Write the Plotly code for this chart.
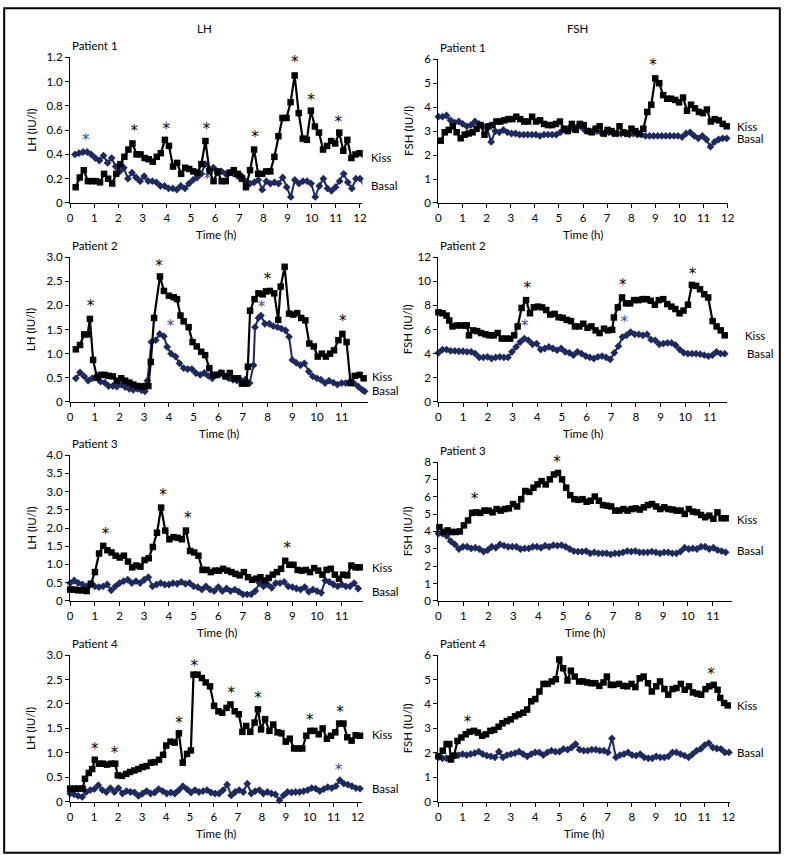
import numpy as np
import plotly.graph_objects as go

# ---------------- data ----------------
# Patient 1 LH
p1_lh_kiss = [0.13,0.21,0.27,0.18,0.18,0.18,0.17,0.24,0.20,0.16,0.24,0.32,0.38,0.44,0.49,0.40,0.40,0.37,0.36,0.34,
              0.38,0.41,0.52,0.47,0.30,0.33,0.24,0.29,0.28,0.26,0.25,0.32,0.51,0.26,0.18,0.26,0.18,0.18,0.25,0.27,
              0.24,0.20,0.13,0.27,0.44,0.24,0.24,0.26,0.26,0.38,0.55,0.70,0.70,0.83,1.05,0.74,0.53,0.52,0.76,0.63,
              0.58,0.44,0.47,0.51,0.49,0.58,0.43,0.52,0.37,0.40,0.41,0.37]
p1_lh_basal = [0.40,0.41,0.42,0.42,0.40,0.37,0.35,0.39,0.33,0.37,0.30,0.26,0.29,0.20,0.25,0.21,0.18,0.22,0.18,0.18,
               0.17,0.14,0.14,0.12,0.12,0.11,0.14,0.12,0.16,0.19,0.21,0.24,0.32,0.28,0.29,0.25,0.26,0.24,0.25,0.24,
               0.22,0.22,0.18,0.16,0.17,0.19,0.11,0.18,0.16,0.17,0.16,0.21,0.13,0.05,0.19,0.16,0.18,0.18,0.16,0.05,
               0.14,0.20,0.12,0.10,0.13,0.18,0.24,0.17,0.12,0.20,0.20,0.14]
# Patient 1 FSH
p1_fsh_kiss = [2.6,2.95,3.05,3.2,2.95,2.7,2.85,2.9,2.95,3.1,3.25,2.85,3.2,3.25,3.4,3.4,3.45,3.5,3.5,3.6,
               3.5,3.4,3.4,3.6,3.4,3.45,3.3,3.25,3.25,3.3,3.4,3.1,3.0,3.3,3.05,3.3,3.25,3.0,2.95,3.1,
               3.2,2.9,3.05,3.0,2.9,3.2,2.95,2.9,3.1,3.0,2.9,3.1,3.8,4.1,5.2,5.0,4.5,4.35,4.35,4.3,
               4.2,4.4,3.85,4.1,3.95,3.8,3.75,3.9,3.4,3.5,3.45,3.3,3.2]
p1_fsh_basal = [3.6,3.6,3.65,3.45,3.35,3.4,3.3,3.2,3.25,3.4,3.3,3.2,3.1,2.55,3.0,2.95,3.05,2.95,2.9,2.9,
                2.85,2.85,2.85,2.85,2.85,2.8,2.85,2.85,2.85,2.85,2.95,3.05,3.1,3.1,3.15,3.2,3.05,3.0,3.0,3.0,
                2.95,2.9,2.95,2.9,2.9,2.9,2.9,2.85,2.9,2.85,2.85,2.8,2.8,2.8,2.8,2.8,2.8,2.8,2.8,2.8,
                2.75,2.9,2.95,2.8,2.7,2.8,2.65,2.35,2.55,2.65,2.7,2.7]
# Patient 2 LH
p2_lh_kiss_t = [0.23,0.40,0.57,0.71,0.80,0.93,1.09,1.24,1.40,1.56,1.73,1.89,2.07,2.23,2.40,2.56,2.73,2.89,3.04,3.17,
                3.27,3.40,3.64,3.80,4.00,4.20,4.33,4.47,4.60,4.80,4.96,5.13,5.31,5.47,5.64,5.80,5.96,6.13,6.29,6.47,
                6.63,6.80,6.96,7.13,7.20,7.29,7.47,7.63,7.80,7.93,8.09,8.27,8.43,8.53,8.69,8.87,9.04,9.20,9.36,9.53,
                9.69,9.87,10.03,10.20,10.36,10.53,10.69,10.87,11.03,11.20,11.36,11.53,11.73,11.89]
p2_lh_kiss = [1.09,1.18,1.4,1.4,1.72,0.87,0.5,0.56,0.56,0.54,0.53,0.44,0.49,0.44,0.4,0.36,0.33,0.32,0.33,0.33,
              0.83,1.74,2.6,2.3,2.2,2.17,2.13,1.79,1.67,1.55,1.24,1.15,1.04,0.97,0.7,0.56,0.56,0.6,0.53,0.6,
              0.49,0.49,0.38,0.38,0.73,1.89,2.13,2.25,2.23,2.29,2.3,2.25,1.7,2.39,2.8,1.83,1.81,1.84,1.74,1.69,
              1.21,1.15,0.94,1.0,0.94,1.0,1.07,1.28,1.41,1.24,0.39,0.54,0.56,0.49]
p2_lh_basal_t = [0.23,0.40,0.57,0.73,0.89,1.07,1.23,1.40,1.56,1.73,1.89,2.07,2.23,2.40,2.56,2.73,2.89,3.03,3.13,3.29,
                 3.47,3.63,3.80,3.93,4.09,4.27,4.43,4.60,4.76,4.93,5.09,5.27,5.43,5.60,5.76,5.93,6.09,6.27,6.43,6.60,
                 6.76,6.93,7.09,7.27,7.43,7.49,7.63,7.73,7.89,8.07,8.23,8.40,8.56,8.73,8.87,9.00,9.16,9.33,9.49,9.67,
                 9.83,10.00,10.16,10.33,10.49,10.67,10.83,11.00,11.16,11.33,11.49,11.67,11.83,11.93]
p2_lh_basal = [0.49,0.61,0.53,0.44,0.49,0.53,0.42,0.4,0.33,0.33,0.32,0.36,0.31,0.27,0.25,0.27,0.24,0.22,0.44,1.24,
               1.28,1.41,1.36,1.14,1.0,0.94,0.8,0.7,0.68,0.68,0.6,0.56,0.6,0.54,0.49,0.56,0.6,0.54,0.49,0.46,
               0.44,0.44,0.46,0.39,0.76,1.55,1.74,1.79,1.62,1.62,1.57,1.55,1.52,1.48,1.35,0.87,0.81,0.76,0.8,0.63,
               0.53,0.49,0.46,0.39,0.44,0.4,0.36,0.39,0.39,0.42,0.39,0.32,0.25,0.22]
# Patient 2 FSH
p2_fsh_kiss_t = [0.00,0.17,0.33,0.44,0.57,0.75,0.91,1.08,1.15,1.24,1.41,1.57,1.73,1.91,2.07,2.24,2.40,2.57,2.73,2.91,
                 3.07,3.21,3.37,3.55,3.71,3.87,4.04,4.20,4.37,4.53,4.71,4.87,5.04,5.20,5.37,5.53,5.71,5.87,6.04,6.20,
                 6.37,6.53,6.71,6.87,7.04,7.11,7.27,7.44,7.60,7.77,7.93,8.11,8.27,8.44,8.60,8.77,8.93,9.11,9.27,9.44,
                 9.60,9.77,9.93,10.11,10.27,10.44,10.60,10.77,10.93,11.11,11.27,11.44,11.60]
p2_fsh_kiss = [7.43,7.35,7.16,6.75,6.26,6.34,6.34,6.34,6.34,5.52,5.93,5.87,5.71,5.6,5.52,5.52,5.71,5.25,5.25,5.25,
               5.52,6.26,7.79,8.44,7.35,7.84,7.9,7.84,7.62,7.24,7.3,7.02,6.97,6.8,6.7,6.26,6.26,6.48,6.15,6.26,
               5.93,5.71,6.07,5.93,5.98,7.0,7.84,8.66,8.17,8.17,8.44,8.44,8.52,8.52,8.39,8.06,8.44,8.52,8.11,7.9,
               7.7,7.35,7.57,8.06,9.7,9.62,9.34,8.93,8.66,6.7,6.26,5.93,5.52]
p2_fsh_basal = [4.07,4.34,4.34,4.23,4.23,4.2,4.2,4.15,4.15,4.0,3.69,3.69,3.74,3.6,3.69,3.74,3.69,3.69,4.15,4.56,
                4.97,5.25,5.11,4.78,4.84,4.34,4.43,4.56,4.43,4.29,4.43,4.15,4.07,3.88,4.15,4.0,3.8,3.69,3.6,3.74,
                3.8,3.69,3.52,4.07,4.62,5.38,5.52,5.79,5.6,5.6,5.52,5.6,5.16,5.11,4.78,4.84,4.89,4.89,4.7,4.34,
                4.07,4.0,4.0,4.0,3.96,3.88,3.8,3.88,4.15,4.0,4.0]
# Patient 3 LH
p3_lh_kiss = [0.31,0.31,0.29,0.29,0.27,0.47,0.79,1.3,1.51,1.39,1.33,1.24,1.19,1.24,1.08,0.92,0.97,0.94,1.12,1.17,
              1.48,1.87,2.56,1.93,1.69,1.75,1.73,1.69,1.93,1.37,1.33,1.24,0.85,0.85,0.79,0.83,0.83,0.88,0.83,0.79,
              0.74,0.7,0.79,0.65,0.58,0.61,0.65,0.56,0.63,0.72,0.79,0.88,1.1,0.99,0.99,0.85,0.83,0.85,0.79,0.9,
              0.83,0.72,0.85,0.88,0.72,0.61,0.72,0.7,0.97,0.92,0.92]
p3_lh_basal = [0.49,0.56,0.49,0.45,0.4,0.45,0.4,0.38,0.4,0.45,0.29,0.4,0.49,0.54,0.58,0.49,0.54,0.49,0.58,0.65,
               0.4,0.45,0.49,0.45,0.45,0.49,0.47,0.52,0.47,0.49,0.4,0.38,0.31,0.4,0.31,0.27,0.38,0.27,0.34,0.27,
               0.31,0.25,0.18,0.18,0.18,0.27,0.49,0.4,0.45,0.36,0.49,0.49,0.52,0.4,0.38,0.34,0.31,0.38,0.25,0.31,
               0.27,0.22,0.56,0.52,0.45,0.4,0.45,0.4,0.4,0.49,0.34]
# Patient 3 FSH
p3_fsh_kiss = [4.25,3.97,4.06,3.97,3.97,4.0,4.35,4.63,5.07,5.1,5.07,5.2,5.2,5.1,5.29,5.2,5.29,5.33,5.58,5.44,
               5.86,6.33,6.28,6.52,6.71,6.9,6.71,7.0,7.28,7.37,7.0,6.52,6.09,5.86,5.82,5.86,5.71,5.77,6.01,5.77,
               5.52,5.48,5.44,5.2,5.2,5.29,5.2,5.29,5.33,5.26,5.39,5.52,5.58,5.44,5.29,5.39,5.29,5.26,5.2,5.2,
               5.01,5.29,5.14,5.1,4.95,4.82,4.91,4.73,5.1,4.76,4.76]
p3_fsh_basal = [3.88,3.88,3.74,3.44,3.25,2.99,3.12,3.12,3.02,3.06,2.99,2.84,2.93,3.12,3.06,3.25,3.18,3.12,3.12,3.12,
                2.99,3.02,3.02,3.12,3.12,3.06,3.18,3.12,3.21,3.18,3.21,3.12,2.99,2.87,2.84,2.84,2.87,2.74,2.8,2.74,
                2.74,2.74,2.68,2.74,2.74,2.8,2.87,2.84,2.87,2.8,2.8,2.8,2.84,2.8,2.74,2.8,2.8,2.74,2.74,2.84,
                3.06,2.99,3.02,2.99,3.12,3.12,2.99,3.06,2.93,2.87,2.8]
# Patient 4 LH
p4_lh_kiss_t = [0.00,0.18,0.34,0.52,0.62,0.78,0.92,1.03,1.20,1.37,1.54,1.72,1.88,1.99,2.16,2.34,2.50,2.68,2.85,3.02,
                3.19,3.37,3.53,3.71,3.88,4.01,4.19,4.36,4.54,4.70,4.88,5.04,5.15,5.32,5.50,5.66,5.84,6.01,6.19,6.35,
                6.53,6.69,6.87,7.04,7.19,7.35,7.52,7.70,7.84,7.97,8.14,8.32,8.48,8.66,8.82,9.00,9.17,9.35,9.51,9.69,
                9.86,10.03,10.20,10.38,10.54,10.72,10.89,11.07,11.23,11.41,11.57,11.75,11.92,12.10]
p4_lh_kiss = [0.27,0.27,0.27,0.27,0.47,0.59,0.67,0.86,0.78,0.78,0.76,0.78,0.78,0.54,0.53,0.57,0.61,0.64,0.67,0.71,
              0.73,0.8,0.81,0.86,0.96,1.15,1.23,1.21,1.4,0.8,0.98,1.05,2.6,2.6,2.53,2.44,2.36,1.96,1.85,1.82,
              1.92,1.99,1.85,1.79,1.43,1.55,1.43,1.62,1.89,1.48,1.69,1.45,1.58,1.42,1.4,1.23,1.29,1.09,1.09,1.09,
              1.35,1.45,1.45,1.38,1.5,1.29,1.35,1.42,1.6,1.6,1.32,1.25,1.36,1.35]
p4_lh_basal = [0.17,0.15,0.12,0.1,0.2,0.24,0.26,0.34,0.24,0.2,0.28,0.2,0.28,0.17,0.22,0.2,0.19,0.12,0.17,0.22,
               0.17,0.19,0.26,0.22,0.17,0.19,0.17,0.24,0.32,0.26,0.19,0.24,0.2,0.22,0.24,0.19,0.17,0.17,0.24,0.35,
               0.13,0.2,0.24,0.2,0.37,0.17,0.22,0.24,0.17,0.2,0.17,0.15,0.03,0.13,0.2,0.19,0.2,0.2,0.22,0.24,
               0.28,0.27,0.22,0.26,0.3,0.28,0.32,0.44,0.37,0.35,0.32,0.28,0.27]
# Patient 4 FSH
p4_fsh_kiss_t = [0.00,0.18,0.34,0.45,0.52,0.65,0.79,0.95,1.13,1.29,1.47,1.63,1.81,1.97,2.15,2.31,2.49,2.65,2.83,2.99,
                 3.17,3.33,3.51,3.67,3.84,4.01,4.18,4.35,4.52,4.69,4.86,5.00,5.16,5.34,5.48,5.64,5.82,5.98,6.15,6.32,
                 6.49,6.66,6.83,6.97,7.13,7.24,7.47,7.65,7.81,7.99,8.15,8.33,8.49,8.67,8.83,9.01,9.17,9.35,9.51,9.69,
                 9.85,10.03,10.19,10.37,10.53,10.71,10.87,11.05,11.21,11.39,11.55,11.66,11.82,11.97]
p4_fsh_kiss = [1.86,2.09,2.36,2.36,1.73,1.89,2.49,2.63,2.76,2.86,2.9,2.83,2.7,2.76,2.9,2.94,3.07,3.21,3.3,3.37,
               3.5,3.57,3.64,3.77,4.11,4.2,4.51,4.82,4.82,4.92,5.01,5.82,5.46,4.96,5.36,5.12,4.92,4.92,4.88,4.85,
               4.85,4.74,4.88,5.12,4.78,4.78,4.82,4.74,4.72,4.82,4.69,5.05,5.12,4.85,4.51,4.72,4.92,4.61,4.38,4.61,
               4.65,4.82,4.58,4.72,4.47,4.42,4.38,4.61,4.72,4.78,4.58,4.25,4.04,3.94]
p4_fsh_basal = [1.82,1.78,1.78,1.82,1.89,1.91,1.95,1.91,1.95,1.99,2.05,1.95,1.89,1.86,1.82,2.05,1.82,1.91,1.95,1.99,
                2.05,1.95,1.86,1.95,2.02,2.02,1.91,2.02,2.09,2.05,2.05,2.16,2.13,2.22,2.36,2.13,2.09,2.09,2.13,2.13,
                2.09,2.09,2.02,2.59,1.82,1.91,1.95,2.02,1.91,1.89,1.95,1.82,1.78,1.78,1.86,1.82,1.82,1.86,2.02,2.02,
                1.95,1.89,1.82,1.95,2.09,2.16,2.32,2.4,2.22,2.18,2.16,2.02,2.02]

# significance asterisks (time, level)
p1_lh_star_k = ([2.65, 3.98, 5.65, 7.65, 9.3, 9.97, 11.1], [0.58, 0.6, 0.6, 0.53, 1.15, 0.84, 0.66])
p1_lh_star_b = ([0.65, 5.68], [0.51, 0.19])
p1_fsh_star_k = ([8.9], [5.7])
p1_fsh_star_b = ([], [])
p2_lh_star_k = ([0.83, 3.6, 8.0, 8.7, 11.05], [1.96, 2.8, 2.52, 3.03, 1.65])
p2_lh_star_b = ([4.07, 7.75], [1.54, 1.95])
p2_fsh_star_k = ([3.6, 7.47, 10.3], [9.34, 9.6, 10.5])
p2_fsh_star_b = ([3.5, 7.53], [6.15, 6.5])
p3_lh_star_k = ([1.43, 3.76, 4.77, 8.8], [1.8, 2.86, 2.23, 1.42])
p3_lh_star_b = ([], [])
p3_fsh_star_k = ([1.45, 4.75], [5.77, 7.94])
p3_fsh_star_b = ([], [])
p4_lh_star_k = ([1.03, 1.85, 4.54, 5.18, 6.73, 7.84, 10.0, 11.27], [1.05, 0.98, 1.58, 2.76, 2.19, 2.09, 1.65, 1.81])
p4_lh_star_b = ([11.2], [0.62])
p4_fsh_star_k = ([1.2, 4.96, 11.28], [3.23, 6.27, 5.19])
p4_fsh_star_b = ([], [])

lh_ticks = {
    1: ([0, 0.2, 0.4, 0.6, 0.8, 1.0, 1.2], ["0", "0.2", "0.4", "0.6", "0.8", "1.0", "1.2"]),
    2: ([0, 0.5, 1.0, 1.5, 2.0, 2.5, 3.0], ["0", "0.5", "1.0", "1.5", "2.0", "2.5", "3.0"]),
    3: ([0, 0.5, 1.0, 1.5, 2.0, 2.5, 3.0, 3.5, 4.0], ["0", "0.5", "1.0", "1.5", "2.0", "2.5", "3.0", "3.5", "4.0"]),
    4: ([0, 0.5, 1.0, 1.5, 2.0, 2.5, 3.0], ["0", "0.5", "1.0", "1.5", "2.0", "2.5", "3.0"]),
}
fsh_ticks = {
    1: [0, 1, 2, 3, 4, 5, 6],
    2: [0, 2, 4, 6, 8, 10, 12],
    3: [0, 1, 2, 3, 4, 5, 6, 7, 8],
    4: [0, 1, 2, 3, 4, 5, 6],
}

# ---------------- layout helpers ----------------
W, H = 788, 860
def px(xp):
    return xp / W
def py(yp):
    return 1 - yp / H

BLACK = "#000000"
NAVY = "#1f2a5c"
STARBLUE = "#3a4a8c"
FONT = "Lato"
FS = 11.5

fig = go.Figure()

def grid(t0, t1, n):
    return list(np.linspace(t0, t1, n))

panels = [
    dict(i=1, name="LH", pt=1, xd=(68, 364), yd=(51, 199), xr=(0, 12.1), yr=(0, 1.2), xt=list(range(13)),
         kt=grid(0.23, 12.15, len(p1_lh_kiss)), kv=p1_lh_kiss, bt=grid(0.2, 12.17, len(p1_lh_basal)), bv=p1_lh_basal,
         sk=p1_lh_star_k, sb=p1_lh_star_b, kl=(371, 153), bl=(371, 181)),
    dict(i=2, name="FSH", pt=1, xd=(441, 734), yd=(53, 199), xr=(0, 12), yr=(0, 6), xt=list(range(13)),
         kt=grid(0.1, 11.96, len(p1_fsh_kiss)), kv=p1_fsh_kiss, bt=grid(0.0, 11.96, len(p1_fsh_basal)), bv=p1_fsh_basal,
         sk=p1_fsh_star_k, sb=p1_fsh_star_b, kl=(741, 121), bl=(741, 134)),
    dict(i=3, name="LH", pt=2, xd=(68, 370), yd=(254, 401), xr=(0, 12.08), yr=(0, 3), xt=list(range(12)),
         kt=p2_lh_kiss_t, kv=p2_lh_kiss, bt=p2_lh_basal_t, bv=p2_lh_basal,
         sk=p2_lh_star_k, sb=p2_lh_star_b, kl=(372, 375), bl=(372, 389)),
    dict(i=4, name="FSH", pt=2, xd=(441, 733), yd=(254, 401), xr=(0, 11.68), yr=(0, 12), xt=list(range(12)),
         kt=p2_fsh_kiss_t, kv=p2_fsh_kiss, bt=grid(0.0, 11.6, len(p2_fsh_basal)), bv=p2_fsh_basal,
         sk=p2_fsh_star_k, sb=p2_fsh_star_b, kl=(750, 334), bl=(752, 352)),
    dict(i=5, name="LH", pt=3, xd=(68, 365), yd=(455, 603), xr=(0, 11.88), yr=(0, 4), xt=list(range(12)),
         kt=grid(0.0, 11.73, len(p3_lh_kiss)), kv=p3_lh_kiss, bt=grid(0.0, 11.67, len(p3_lh_basal)), bv=p3_lh_basal,
         sk=p3_lh_star_k, sb=p3_lh_star_b, kl=(372, 569), bl=(372, 593)),
    dict(i=6, name="FSH", pt=3, xd=(441, 738), yd=(462, 603), xr=(0, 11.75), yr=(0, 8), xt=list(range(12)),
         kt=grid(0.04, 11.51, len(p3_fsh_kiss)), kv=p3_fsh_kiss, bt=grid(0.0, 11.51, len(p3_fsh_basal)), bv=p3_fsh_basal,
         sk=p3_fsh_star_k, sb=p3_fsh_star_b, kl=(741, 520), bl=(741, 552)),
    dict(i=7, name="LH", pt=4, xd=(68, 364), yd=(658, 807), xr=(0, 12.2), yr=(0, 3), xt=list(range(13)),
         kt=p4_lh_kiss_t, kv=p4_lh_kiss, bt=grid(0.0, 12.1, len(p4_lh_basal)), bv=p4_lh_basal,
         sk=p4_lh_star_k, sb=p4_lh_star_b, kl=(372, 739), bl=(372, 793)),
    dict(i=8, name="FSH", pt=4, xd=(441, 736), yd=(658, 807), xr=(0, 12.05), yr=(0, 6), xt=list(range(13)),
         kt=p4_fsh_kiss_t, kv=p4_fsh_kiss, bt=grid(0.0, 12.02, len(p4_fsh_basal)), bv=p4_fsh_basal,
         sk=p4_fsh_star_k, sb=p4_fsh_star_b, kl=(741, 709), bl=(741, 757)),
]

def label(x, y, text, xanchor="center", angle=0):
    return dict(x=px(x), y=py(y), xref="paper", yref="paper", text=text, showarrow=False,
                xanchor=xanchor, yanchor="middle", textangle=angle,
                font=dict(family=FONT, size=FS, color=BLACK))

annotations = []
layout_axes = {}
for p in panels:
    i = p["i"]
    xa = "x" if i == 1 else f"x{i}"
    ya = "y" if i == 1 else f"y{i}"
    fig.add_trace(go.Scatter(x=p["bt"], y=p["bv"], xaxis=xa, yaxis=ya, mode="lines+markers",
                             line=dict(color=NAVY, width=2),
                             marker=dict(symbol="diamond", size=6, color=NAVY),
                             showlegend=False, cliponaxis=False))
    fig.add_trace(go.Scatter(x=p["kt"], y=p["kv"], xaxis=xa, yaxis=ya, mode="lines+markers",
                             line=dict(color=BLACK, width=2.2),
                             marker=dict(symbol="square", size=6.5, color=BLACK),
                             showlegend=False, cliponaxis=False))
    for (sx, sy), col in ((p["sk"], BLACK), (p["sb"], STARBLUE)):
        if sx:
            fig.add_trace(go.Scatter(x=sx, y=sy, xaxis=xa, yaxis=ya, mode="text", text=["*"] * len(sx),
                                     textposition="middle center",
                                     textfont=dict(family="DejaVu Sans", size=15, color=col),
                                     showlegend=False, cliponaxis=False, hoverinfo="skip"))
    xkey = "xaxis" if i == 1 else f"xaxis{i}"
    ykey = "yaxis" if i == 1 else f"yaxis{i}"
    common = dict(showline=True, linecolor=BLACK, linewidth=1.3, ticks="outside", ticklen=4,
                  tickcolor=BLACK, tickwidth=1.2, showgrid=False, zeroline=False,
                  tickfont=dict(family=FONT, size=FS, color=BLACK))
    layout_axes[xkey] = dict(domain=[px(p["xd"][0]), px(p["xd"][1])], range=list(p["xr"]),
                             anchor=ya, tickvals=p["xt"], ticktext=[str(v) for v in p["xt"]], **common)
    if p["name"] == "LH":
        tv, tt = lh_ticks[p["pt"]]
    else:
        tv = fsh_ticks[p["pt"]]
        tt = [str(v) for v in tv]
    layout_axes[ykey] = dict(domain=[py(p["yd"][1]), py(p["yd"][0])], range=list(p["yr"]),
                             anchor=xa, tickvals=tv, ticktext=tt, **common)
    xc = (p["xd"][0] + p["xd"][1]) / 2
    annotations.append(label(xc, p["yd"][1] + 32, "Time (h)"))
    annotations.append(label(p["xd"][0], p["yd"][0] - 12, f"Patient {p['pt']}", xanchor="left"))
    ytitle = "LH (IU/l)" if p["name"] == "LH" else "FSH (IU/l)"
    yx = 28 if p["name"] == "LH" else 410
    annotations.append(label(yx, (p["yd"][0] + p["yd"][1]) / 2, ytitle, angle=-90))
    annotations.append(label(p["kl"][0], p["kl"][1], "Kiss", xanchor="left"))
    annotations.append(label(p["bl"][0], p["bl"][1], "Basal", xanchor="left"))

annotations.append(label(204, 22, "LH"))
annotations.append(label(582, 22, "FSH"))

fig.update_layout(
    width=W, height=H,
    margin=dict(l=0, r=0, t=0, b=0),
    paper_bgcolor="white", plot_bgcolor="white",
    annotations=annotations,
    shapes=[dict(type="rect", xref="paper", yref="paper", x0=0.0015, x1=0.9985, y0=0.0015, y1=0.9985,
                 line=dict(color=BLACK, width=2))],
    **layout_axes,
)

fig.write_html("out.html", config={"displayModeBar": False},
               post_script="document.body.style.margin='0';document.body.style.overflow='hidden';")
